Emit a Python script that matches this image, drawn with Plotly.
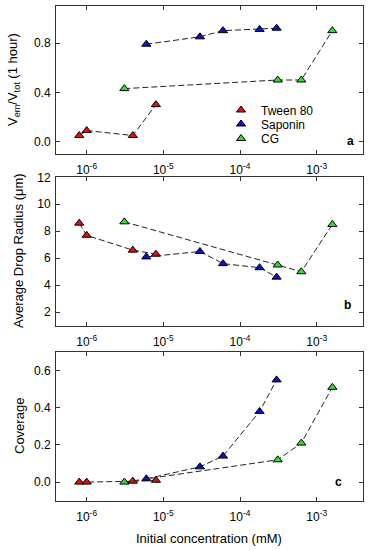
import plotly.graph_objects as go

W, H = 372, 550

# ---- data ----
tween_x = [8e-7, 1e-6, 4e-6, 8e-6]
saponin_x = [6e-6, 3e-5, 6e-5, 1.8e-4, 3e-4]
cg_x = [3.1e-6, 3.1e-4, 6.3e-4, 1.6e-3]

tween_a = [0.05, 0.09, 0.05, 0.30]
saponin_a = [0.79, 0.85, 0.90, 0.91, 0.92]
cg_a = [0.43, 0.50, 0.50, 0.90]

tween_b = [8.6, 7.7, 6.6, 6.3]
saponin_b = [6.1, 6.5, 5.6, 5.3, 4.6]
cg_b = [8.7, 5.5, 5.0, 8.5]

tween_c = [0.0, 0.0, 0.005, 0.01]
saponin_c = [0.018, 0.082, 0.14, 0.38, 0.55]
cg_c = [0.0, 0.12, 0.21, 0.51]

series_names = ["Tween 80", "Saponin", "CG"]
series_colors = ["#dd1111", "#1010c0", "#2ede2e"]

x_tickvals = [1e-6, 1e-5, 1e-4, 1e-3]
x_ticktext = ["10<sup>-6</sup>", "10<sup>-5</sup>", "10<sup>-4</sup>", "10<sup>-3</sup>"]

ya_ticks = [0.0, 0.4, 0.8]
yb_ticks = [2, 4, 6, 8, 10, 12]
yc_ticks = [0.0, 0.2, 0.4, 0.6]

FONT = "Liberation Sans, Arial, sans-serif"

fig = go.Figure()

panels = [
    ("x", "y", [tween_a, saponin_a, cg_a]),
    ("x2", "y2", [tween_b, saponin_b, cg_b]),
    ("x3", "y3", [tween_c, saponin_c, cg_c]),
]
xs = [tween_x, saponin_x, cg_x]
legend_ids = ["legend", "legend2", "legend3"]

for pi, (xa, ya, ys) in enumerate(panels):
    for si in range(3):
        fig.add_trace(go.Scatter(
            x=xs[si], y=ys[si], xaxis=xa, yaxis=ya,
            mode="lines+markers",
            name=series_names[si],
            line=dict(color="#222222", width=1, dash="6px,3px"),
            marker=dict(symbol="triangle-up", size=8, color=series_colors[si],
                        line=dict(color="black", width=1)),
            showlegend=False,
        ))

# legend entries (marker only, as in the reference)
for si in range(3):
    fig.add_trace(go.Scatter(
        x=[None], y=[None], xaxis="x", yaxis="y", mode="markers",
        name=series_names[si],
        marker=dict(symbol="triangle-up", size=8, color=series_colors[si],
                    line=dict(color="black", width=1)),
        showlegend=True, legend=legend_ids[si],
    ))

def px_x(p):
    return p / W

def px_y(p):
    return 1 - p / H

xdom = [px_x(56), px_x(362.7)]
doms = {
    "a": [px_y(154), px_y(6)],
    "b": [px_y(325.7), px_y(177.3)],
    "c": [px_y(500.7), px_y(352)],
}

axis_common = dict(
    showline=True, linecolor="#333333", linewidth=1, mirror="ticks",
    ticks="inside", ticklen=4, tickcolor="#333333", showgrid=False, zeroline=False,
    tickfont=dict(family=FONT, size=12, color="black"), automargin=False,
)

for i, (key, yt) in enumerate(zip(["a", "b", "c"], [ya_ticks, yb_ticks, yc_ticks])):
    sfx = "" if i == 0 else str(i + 1)
    fig.update_layout(**{
        f"xaxis{sfx}": dict(axis_common, type="log", range=[-6.4, -2.4], domain=xdom,
                            anchor=f"y{sfx}", tickvals=x_tickvals, ticktext=x_ticktext,
                            ticklabelstandoff=5),
        f"yaxis{sfx}": dict(axis_common, domain=doms[key], anchor=f"x{sfx}",
                            tickvals=yt, ticklabelstandoff=2,
                            tickformat=".1f" if key != "b" else "d"),
    })

fig.update_layout(
    yaxis=dict(range=[-0.1, 1.1]),
    yaxis2=dict(range=[1, 12]),
    yaxis3=dict(range=[-0.1, 0.7]),
)

# legends, one per series for tight spacing
leg_y = [110, 124, 138.5]
for lid, yy in zip(legend_ids, leg_y):
    fig.update_layout(**{lid: dict(
        x=px_x(221), y=px_y(yy), xanchor="left", yanchor="middle",
        bgcolor="rgba(0,0,0,0)", borderwidth=0,
        font=dict(family=FONT, size=12, color="black"),
        itemwidth=30,
    )})

annots = [
    dict(text="V<sub>em</sub>/V<sub>tot</sub> (1 hour)", x=px_x(13), y=px_y(80), textangle=-90),
    dict(text="Average Drop Radius (\u03bcm)", x=px_x(19), y=px_y(251), textangle=-90),
    dict(text="Coverage", x=px_x(19), y=px_y(426), textangle=-90),
    dict(text="Initial concentration (mM)", x=px_x(209), y=px_y(538), textangle=0),
]
for a in annots:
    fig.add_annotation(xref="paper", yref="paper", showarrow=False,
                       xanchor="center", yanchor="middle",
                       font=dict(family=FONT, size=13, color="black"), **a)

for lab, xx, yy in [("a", 350, 141), ("b", 347, 305), ("c", 338, 482)]:
    fig.add_annotation(text=f"<b>{lab}</b>", xref="paper", yref="paper", showarrow=False,
                       x=px_x(xx), y=px_y(yy), xanchor="center", yanchor="middle",
                       font=dict(family=FONT, size=12, color="black"))

fig.update_layout(
    width=W, height=H,
    margin=dict(l=0, r=0, t=0, b=0),
    paper_bgcolor="white", plot_bgcolor="white",
    font=dict(family=FONT, size=11, color="black"),
)

fig.write_html("out.html", config={"displayModeBar": False},
               post_script="document.body.style.margin='0';document.body.style.overflow='hidden';")
